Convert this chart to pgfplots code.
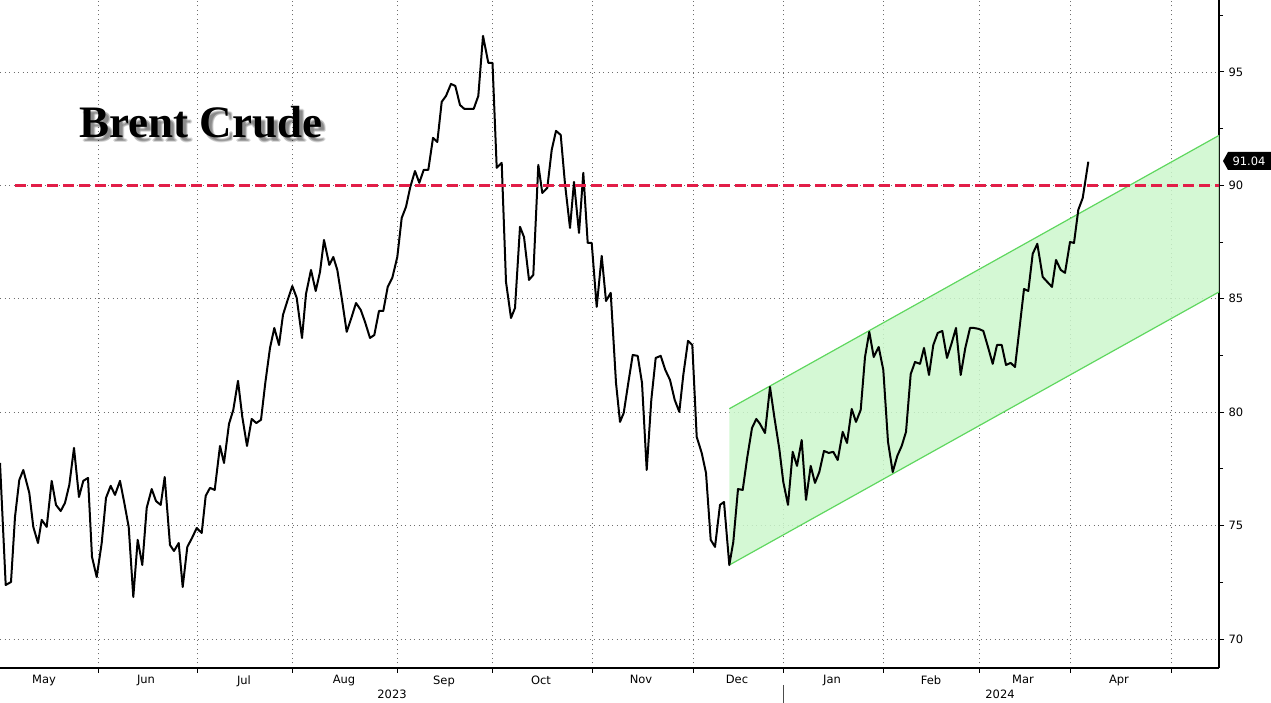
\documentclass[border=0pt]{standalone}
\usepackage{fontspec}
\setmainfont{DejaVu Sans}
\newfontfamily\titlefont{Liberation Serif}
\usepackage{pgfplots}
\pgfplotsset{compat=1.18}

\definecolor{gridgray}{RGB}{110,110,110}
\definecolor{redline}{RGB}{226,30,72}
\definecolor{bandfill}{RGB}{204,247,204}
\definecolor{bandedge}{RGB}{95,215,95}

\begin{document}
\begin{tikzpicture}[x=1pt,y=1pt]
\begin{axis}[
  at={(0,0)}, anchor=south west,
  scale only axis, width=1219pt, height=668pt,
  xmin=0, xmax=1219, ymin=68.72, ymax=98.17,
  axis x line*=bottom, axis y line*=right,
  axis line style={black, line width=1.2pt, -},
  xtick={98,197.5,292,397.5,492.6,592.6,693.4,783,883.6,979.7,1070.5,1171},
  xticklabels={},
  extra x ticks={44,146,244,344,444,541,641,737,832,931,1023,1119},
  extra x tick labels={May,Jun,Jul,Aug,Sep,Oct,Nov,Dec,Jan,Feb,Mar,Apr},
  extra x tick style={grid=none, major tick length=0pt, xticklabel style={yshift=-4pt}},
  ytick={70,75,80,85,90,95},
  minor ytick={72.5,77.5,82.5,87.5,92.5,97.5},
  grid=major,
  major grid style={gridgray, line width=0.7pt, dash pattern=on 1pt off 3.5pt},
  tick align=outside,
  major tick length=5pt, minor tick length=4pt,
  tick style={black, line width=0.9pt},
  ticklabel style={font=\fontsize{11.5}{13}\selectfont},
  yticklabel style={xshift=1pt},
  /pgf/number format/assume math mode=true,
  clip=false,
]
% channel
\addplot[draw=none, fill=bandfill, fill opacity=0.85] coordinates {(729.3,73.26) (1219,85.3) (1219,92.2) (729.3,80.15)} -- cycle;
\addplot[bandedge, line width=1.2pt] coordinates {(729.3,73.26) (1219,85.3)};
\addplot[bandedge, line width=1.2pt] coordinates {(729.3,80.15) (1219,92.2)};
% Brent
\addplot[black, line width=2pt, line join=round] coordinates {
(0,77.76) (5.7,72.38) (11,72.51) (15,75.38) (19.3,77.01) (23.3,77.45) (29.3,76.44) (33.3,74.94)
(38,74.23) (41.7,75.25) (46.7,74.94) (51.7,76.97) (56,75.91) (60.7,75.64) (65,76.00) (69.3,76.79)
(74,78.42) (79,76.26) (83.3,76.97) (88,77.10) (92,73.62) (96.7,72.73) (101.7,74.23) (106,76.22)
(110.7,76.75) (115,76.35) (120,76.97) (124.3,76.00) (128.7,74.94) (133.3,71.85) (137.7,74.37) (142.3,73.26)
(146.7,75.78) (151.7,76.61) (156,76.08) (160.7,75.91) (164.7,77.14) (170,74.14) (174,73.88) (178.7,74.23)
(182.7,72.29) (187.3,74.06) (192,74.45) (196.7,74.89) (201.7,74.67) (205.7,76.31) (210,76.66) (214.7,76.57)
(220,78.51) (224,77.76) (229,79.48) (233.3,80.10) (238,81.38) (242.3,79.79) (247,78.51) (251.7,79.70)
(256.3,79.52) (261,79.66) (265.3,81.29) (270,82.83) (274.3,83.71) (279,82.96) (283,84.29) (287.7,84.95)
(292.3,85.56) (296.7,85.04) (302,83.27) (306,85.21) (311,86.27) (315.7,85.34) (320,86.18) (324,87.59)
(329.3,86.49) (333.3,86.84) (337.3,86.27) (342,84.95) (346.7,83.54) (351.7,84.20) (356,84.81) (360.7,84.51)
(365,83.98) (370,83.27) (374.3,83.40) (379,84.46) (383.3,84.46) (387.7,85.52) (392.3,85.92) (397.3,86.84)
(401.7,88.56) (406,89.05) (410.3,89.93) (415,90.63) (419.3,90.11) (423.7,90.68) (428.3,90.68) (433,92.09)
(437.3,91.91) (441.7,93.68) (446,93.94) (451,94.47) (455.3,94.38) (460,93.54) (464.3,93.37) (469,93.37)
(473.7,93.37) (478.3,93.94) (483,96.59) (488.3,95.40) (492.5,95.40) (496.7,90.77) (501.7,90.99) (506,85.74)
(511,84.15) (515,84.59) (520,88.17) (524,87.72) (529,85.83) (533.3,86.05) (538.3,90.90) (542.3,89.66)
(547.3,89.89) (551.7,91.56) (556,92.40) (560.7,92.22) (565,90.06) (570,88.12) (574,90.15) (579,87.90)
(583.3,90.55) (587.7,87.46) (591.7,87.46) (596.7,84.64) (601.7,86.89) (606,84.90) (610.7,85.26) (616,81.29)
(620,79.57) (623.7,79.96) (628.3,81.29) (632.7,82.52) (637.7,82.48) (642,81.29) (646.7,77.45) (651.3,80.54)
(655.7,82.39) (660.7,82.48) (665.3,81.86) (670,81.42) (674.7,80.54) (679.3,80.01) (683.3,81.64) (688,83.14)
(692.3,82.96) (696.7,78.91) (701.7,78.20) (706,77.32) (710.7,74.37) (715,74.06) (720,75.91) (724,76.04)
(729.3,73.26) (733.3,74.28) (738,76.61) (742.7,76.57) (747.3,78.02) (752,79.30) (756.3,79.70) (760,79.48)
(765,79.08) (770,81.11) (774.3,79.79) (779.3,78.38) (783.3,76.92) (788,75.91) (792.7,78.25) (797,77.63)
(801.7,78.77) (806,76.13) (810.7,77.63) (815,76.88) (819.3,77.36) (824,78.29) (828.7,78.20) (833.3,78.25)
(837.7,77.89) (842.7,79.13) (847,78.64) (851.7,80.14) (856,79.57) (860.7,80.10) (865,82.43) (869.3,83.54)
(873.7,82.43) (878.7,82.87) (883.3,81.86) (888,78.69) (892.7,77.36) (897.3,78.07) (901.7,78.51) (906,79.13)
(910.7,81.68) (915,82.21) (920,82.13) (924,82.83) (929,81.64) (933.3,82.96) (937.7,83.49) (942.3,83.58)
(947,82.39) (951.7,83.05) (956,83.71) (960.7,81.64) (965.3,82.83) (970,83.71) (974,83.71) (978.7,83.67)
(983.3,83.58) (988,82.87) (992.7,82.13) (997,82.96) (1001.7,82.96) (1006,82.08) (1010.7,82.17) (1015,81.99)
(1019.3,83.62) (1024,85.43) (1028.3,85.34) (1032.7,86.98) (1037.3,87.42) (1042.7,85.96) (1047.3,85.74) (1052,85.52)
(1056,86.71) (1060.7,86.27) (1065,86.14) (1070,87.50) (1074,87.46) (1078.3,88.92) (1082.7,89.44) (1088.3,91.04)
};
% 90 level
\addplot[redline, line width=3pt, dash pattern=on 11pt off 5pt] coordinates {(15,90) (1219,90)};
\end{axis}
% title with soft shadow
\foreach \dx/\dy in {3/-4,5/-4,4/-3,4/-5}{
  \node[anchor=base, inner sep=0pt, text=black, text opacity=0.14,
        font=\titlefont\bfseries\fontsize{45}{45}\selectfont]
        at (201+\dx, 530+\dy) {Brent Crude};
}
\node[anchor=base, inner sep=0pt, font=\titlefont\bfseries\fontsize{45}{45}\selectfont]
      at (201,530) {Brent Crude};
% last value tag
\fill[black] (1223,507) -- (1228,516) -- (1271,516) -- (1271,498) -- (1228,498) -- cycle;
\node[text=white, font=\fontsize{11.5}{13}\selectfont, inner sep=0pt] at (1249,507) {91.04};
% years
\node[font=\fontsize{11.5}{13}\selectfont, inner sep=0pt] at (392,-26) {2023};
\node[font=\fontsize{11.5}{13}\selectfont, inner sep=0pt] at (1000,-26) {2024};
\draw[black!70, line width=0.8pt] (783,-17) -- (783,-35);
\pgfresetboundingbox
\path (0,-35) rectangle (1271,668);
\end{tikzpicture}
\end{document}
